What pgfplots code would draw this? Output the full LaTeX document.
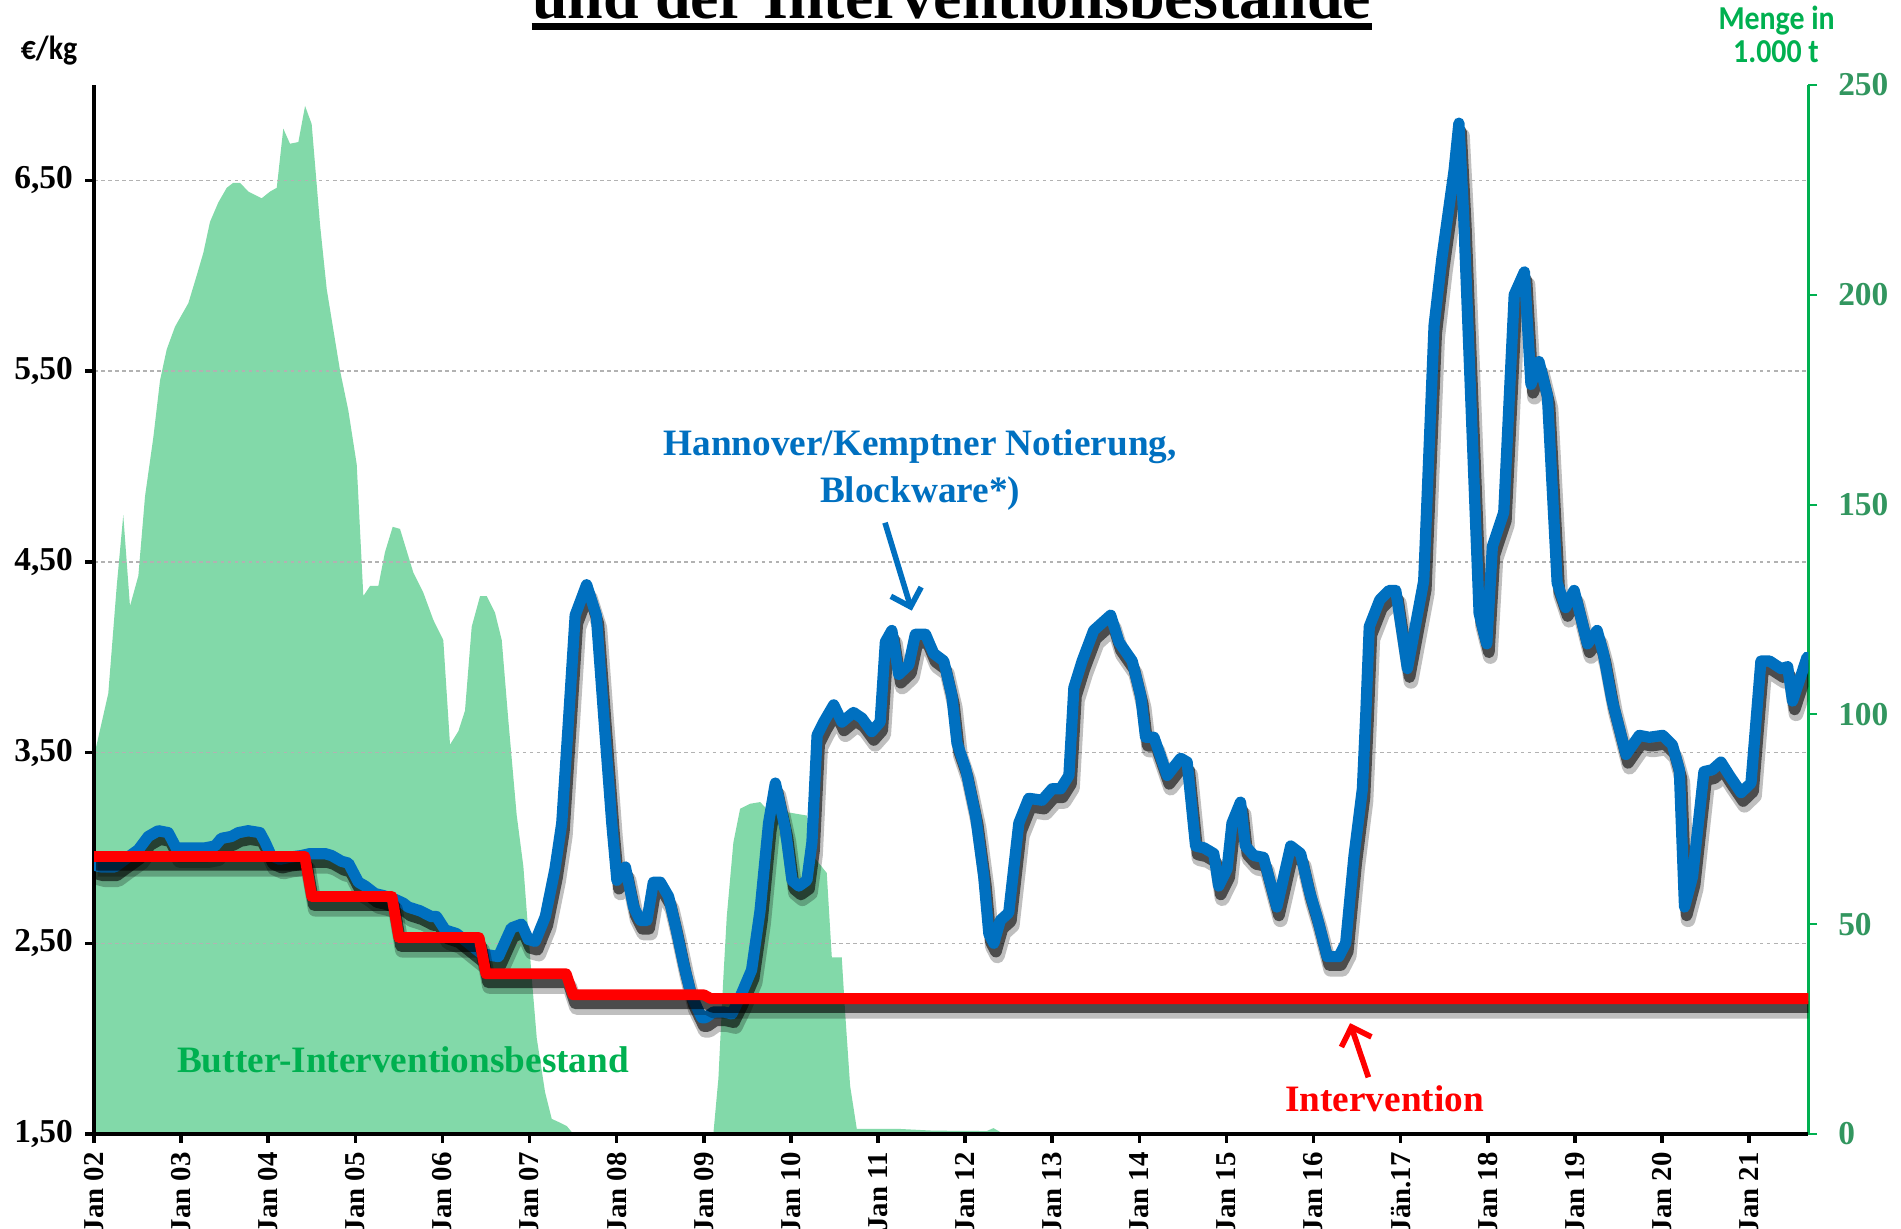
\documentclass[border=0pt]{standalone}
\usepackage{pgfplots}
\pgfplotsset{compat=1.18}
\usepackage{pgfplotstable}
\usepackage{fontspec}
\setmainfont{Liberation Serif}
\newfontfamily\carlito{Carlito}
\usetikzlibrary{arrows.meta}
\definecolor{areagreen}{RGB}{130,217,169}
\definecolor{mgreen}{RGB}{0,176,80}
\definecolor{tgreen}{RGB}{50,150,95}
\definecolor{mblue}{RGB}{0,112,192}
\definecolor{mred}{RGB}{255,0,0}

% Butter-Interventionsbestand, 1000 t
\pgfplotstableread{
x y
2002.000 90
2002.164 105
2002.261 130.6
2002.336 147.5
2002.413 125.8
2002.509 133
2002.586 152
2002.681 166
2002.758 179.6
2002.835 187
2002.930 192.4
2003.083 198
2003.179 204.6
2003.255 210
2003.332 217.4
2003.427 222
2003.524 225.5
2003.599 226.7
2003.676 226.7
2003.772 224.6
2003.925 223
2004.021 224.6
2004.098 225.5
2004.173 239.6
2004.250 236
2004.346 236.4
2004.423 245
2004.499 240.7
2004.595 216.7
2004.672 201.3
2004.824 182
2004.920 172.4
2005.016 159.6
2005.092 128.2
2005.169 130.6
2005.264 130.6
2005.341 138.7
2005.429 144.7
2005.513 144.2
2005.666 133.8
2005.781 129
2005.896 122.5
2006.010 117.7
2006.087 92.8
2006.183 96
2006.259 100.9
2006.336 120.9
2006.432 128.2
2006.509 128.2
2006.604 124.2
2006.681 117.7
2006.757 98.5
2006.853 75.9
2006.929 63.8
2007.025 37.3
2007.083 22.8
2007.178 10
2007.255 3.6
2007.350 2.7
2007.427 1.9
2007.503 0
2009.110 0
2009.168 13.2
2009.225 37.3
2009.264 51.8
2009.340 69.5
2009.417 77.5
2009.532 78.7
2009.647 79.1
2009.723 77.5
2009.953 76.7
2010.183 75.9
2010.258 66.2
2010.412 62.2
2010.470 42.1
2010.584 42.1
2010.622 29.3
2010.680 11.5
2010.757 1.2
2011.254 1.2
2011.633 0.8
2012.249 0.7
2012.325 1.4
2012.402 0.5
2012.459 0
}\stocktable

% Hannover/Kemptner Notierung, EUR/kg
\pgfplotstableread{
x y
2002.000 2.91
2002.084 2.90
2002.237 2.90
2002.355 2.94
2002.508 2.99
2002.623 3.06
2002.738 3.09
2002.852 3.08
2002.944 3.00
2003.082 3.00
2003.274 3.00
2003.389 3.01
2003.462 3.05
2003.577 3.06
2003.657 3.08
2003.769 3.09
2003.905 3.08
2003.964 3.03
2004.033 2.96
2004.135 2.94
2004.228 2.95
2004.382 2.96
2004.479 2.97
2004.653 2.97
2004.727 2.96
2004.841 2.93
2004.921 2.92
2005.036 2.82
2005.113 2.80
2005.227 2.76
2005.323 2.75
2005.457 2.73
2005.552 2.71
2005.607 2.69
2005.744 2.67
2005.872 2.64
2005.932 2.64
2006.031 2.57
2006.164 2.55
2006.300 2.50
2006.450 2.445
2006.643 2.43
2006.791 2.58
2006.908 2.60
2006.986 2.52
2007.066 2.51
2007.181 2.64
2007.292 2.89
2007.370 3.13
2007.446 3.66
2007.524 4.22
2007.655 4.38
2007.766 4.22
2007.850 3.70
2007.944 3.13
2008.003 2.83
2008.100 2.90
2008.195 2.69
2008.272 2.62
2008.348 2.62
2008.421 2.82
2008.501 2.82
2008.596 2.745
2008.671 2.60
2008.769 2.39
2008.862 2.22
2008.978 2.11
2009.019 2.11
2009.113 2.14
2009.228 2.14
2009.323 2.13
2009.419 2.22
2009.549 2.36
2009.646 2.67
2009.744 3.13
2009.822 3.34
2009.936 3.10
2010.013 2.83
2010.092 2.80
2010.184 2.83
2010.242 3.03
2010.301 3.59
2010.377 3.66
2010.492 3.75
2010.586 3.66
2010.719 3.71
2010.816 3.68
2010.928 3.61
2011.025 3.66
2011.085 4.08
2011.159 4.14
2011.238 3.91
2011.354 3.96
2011.429 4.12
2011.546 4.12
2011.638 4.02
2011.755 3.98
2011.847 3.80
2011.907 3.55
2012.004 3.42
2012.120 3.17
2012.214 2.85
2012.273 2.55
2012.330 2.50
2012.404 2.62
2012.501 2.66
2012.617 3.13
2012.731 3.26
2012.884 3.25
2013.000 3.31
2013.096 3.31
2013.192 3.38
2013.249 3.84
2013.344 3.98
2013.476 4.14
2013.671 4.22
2013.766 4.08
2013.918 3.98
2014.015 3.80
2014.072 3.58
2014.168 3.58
2014.320 3.38
2014.475 3.47
2014.549 3.45
2014.646 3.01
2014.744 3.00
2014.855 2.97
2014.911 2.80
2015.008 2.89
2015.064 3.13
2015.162 3.24
2015.217 3.01
2015.315 2.96
2015.426 2.95
2015.579 2.69
2015.738 3.01
2015.852 2.97
2015.948 2.78
2016.039 2.64
2016.157 2.43
2016.290 2.43
2016.369 2.50
2016.465 2.96
2016.561 3.31
2016.600 3.70
2016.640 4.16
2016.760 4.30
2016.868 4.35
2016.944 4.35
2017.078 3.94
2017.265 4.40
2017.384 5.74
2017.473 6.09
2017.613 6.55
2017.669 6.80
2017.724 6.31
2017.844 4.90
2017.901 4.23
2017.989 4.07
2018.053 4.58
2018.184 4.76
2018.304 5.90
2018.421 6.02
2018.496 5.43
2018.588 5.55
2018.685 5.37
2018.797 4.39
2018.894 4.26
2018.992 4.35
2019.145 4.07
2019.256 4.14
2019.327 4.02
2019.424 3.78
2019.587 3.49
2019.740 3.59
2019.855 3.58
2020.008 3.59
2020.120 3.54
2020.199 3.41
2020.259 2.69
2020.351 2.85
2020.482 3.40
2020.579 3.41
2020.677 3.45
2020.774 3.38
2020.908 3.29
2021.022 3.34
2021.136 3.98
2021.234 3.98
2021.368 3.94
2021.443 3.95
2021.499 3.77
2021.666 4.00
}\pricetable

% Interventionspreis, EUR/kg
\pgfplotstableread{
x y
2002.00 2.955
2004.42 2.955
2004.50 2.745
2005.42 2.745
2005.50 2.53
2006.42 2.53
2006.50 2.34
2007.42 2.34
2007.50 2.23
2009.00 2.23
2009.08 2.21
2021.68 2.21
}\intervtable

\begin{document}
\begin{tikzpicture}
\useasboundingbox (0,0) rectangle (19.01cm,12.29cm);

% right axis: Interventionsbestand
\begin{axis}[
  at={(0.94cm,0.95cm)}, anchor=south west,
  scale only axis, width=17.143cm, height=10.49cm,
  xmin=2002, xmax=2021.68, ymin=0, ymax=250,
  axis x line=none,
  axis y line*=right,
  y axis line style={mgreen, line width=0.7pt, -},
  ytick={0,50,100,150,200,250},
  ytick style={mgreen, line width=0.6pt},
  tick align=outside, major tick length=2.5pt,
  yticklabel style={tgreen, font=\fontsize{9.5}{11}\selectfont\bfseries, xshift=2.5pt},
  /pgf/number format/assume math mode=true,
]
\addplot[fill=areagreen, draw=none] table {\stocktable} \closedcycle;
\end{axis}

% left axis: prices
\begin{axis}[
  at={(0.94cm,0.95cm)}, anchor=south west,
  scale only axis, width=17.143cm, height=10.49cm,
  xmin=2002, xmax=2021.68, ymin=1.5, ymax=7.0,
  axis x line*=bottom, axis y line*=left,
  axis line style={black, line width=1pt, -},
  xtick={2002,2003,2004,2005,2006,2007,2008,2009,2010,2011,2012,2013,2014,2015,2016,2017,2018,2019,2020,2021},
  xticklabels={Jan 02,Jan 03,Jan 04,Jan 05,Jan 06,Jan 07,Jan 08,Jan 09,Jan 10,Jan 11,Jan 12,Jan 13,Jan 14,Jan 15,Jan 16,Jän.17,Jan 18,Jan 19,Jan 20,Jan 21},
  ytick={1.5,2.5,3.5,4.5,5.5,6.5},
  yticklabel={\pgfmathprintnumber[fixed,fixed zerofill,precision=2,use comma]{\tick}},
  tick align=outside, major tick length=2.5pt,
  tick style={black, line width=1pt},
  xticklabel shift=2.5pt,
  xticklabel style={rotate=90, anchor=east, inner sep=0pt, font=\fontsize{8.2}{10}\selectfont\bfseries},
  yticklabel style={font=\fontsize{9.5}{11}\selectfont\bfseries},
  ymajorgrids,
  major grid style={gray!60, dash pattern=on 1pt off 1pt, line width=0.4pt},
  /pgf/number format/assume math mode=true,
]
% blue line with shadow
\addplot[black, opacity=0.25, line width=4.2pt, xshift=1pt, yshift=-3.6pt, line join=round, line cap=round] table {\pricetable};
\addplot[black, opacity=0.6, line width=3.3pt, xshift=0.6pt, yshift=-2.4pt, line join=round, line cap=round] table {\pricetable};
\addplot[mblue, line width=3.2pt, line join=round, line cap=round] table {\pricetable};
% red line with shadow
\addplot[black, opacity=0.25, line width=4.2pt, xshift=1pt, yshift=-3.6pt, line join=round] table {\intervtable};
\addplot[black, opacity=0.6, line width=3.3pt, xshift=0.6pt, yshift=-2.4pt, line join=round] table {\intervtable};
\addplot[mred, line width=3.1pt, line join=round] table {\intervtable};

\node[anchor=base, mblue, inner sep=0, font=\fontsize{10.6}{12}\selectfont\bfseries] at (axis cs:2011.483,5.059) {Hannover/Kemptner Notierung,};
\node[anchor=base, mblue, inner sep=0, font=\fontsize{10.6}{12}\selectfont\bfseries] at (axis cs:2011.483,4.811) {Blockware*)};
\draw[mblue, line width=1.6pt, -{Straight Barb[length=4.5pt,width=9pt]}] (axis cs:2011.081,4.705) -- (axis cs:2011.388,4.244);
\draw[mred, line width=1.6pt, -{Straight Barb[length=4.5pt,width=9pt]}] (axis cs:2016.630,1.797) -- (axis cs:2016.420,2.081);
\node[anchor=base, mred, inner sep=0, font=\fontsize{10.6}{12}\selectfont\bfseries] at (axis cs:2016.816,1.617) {Intervention};
\node[anchor=base, mgreen, inner sep=0, font=\fontsize{10.6}{12}\selectfont\bfseries] at (axis cs:2005.548,1.821) {Butter-Interventionsbestand};
\end{axis}

% title (cut off at the top as in the reference)
\node[anchor=base, inner sep=0, font=\fontsize{18.2}{20}\selectfont\bfseries] (title) at (9.517cm,12.107cm) {und der Interventionsbestände};
\draw[line width=2pt] ([yshift=-0.084cm]title.base west) -- ([yshift=-0.084cm]title.base east);

\node[anchor=base, inner sep=0, font=\carlito\fontsize{8.5}{10}\selectfont\bfseries] at (0.49cm,11.69cm) {\scalebox{1}[1.12]{€/kg}};
\node[anchor=base, inner sep=0, mgreen, font=\carlito\fontsize{8.5}{10}\selectfont\bfseries] at (17.766cm,11.995cm) {\scalebox{1}[1.12]{Menge in}};
\node[anchor=base, inner sep=0, mgreen, font=\carlito\fontsize{8.5}{10}\selectfont\bfseries] at (17.76cm,11.66cm) {\scalebox{1}[1.12]{1.000 t}};
\end{tikzpicture}
\end{document}
